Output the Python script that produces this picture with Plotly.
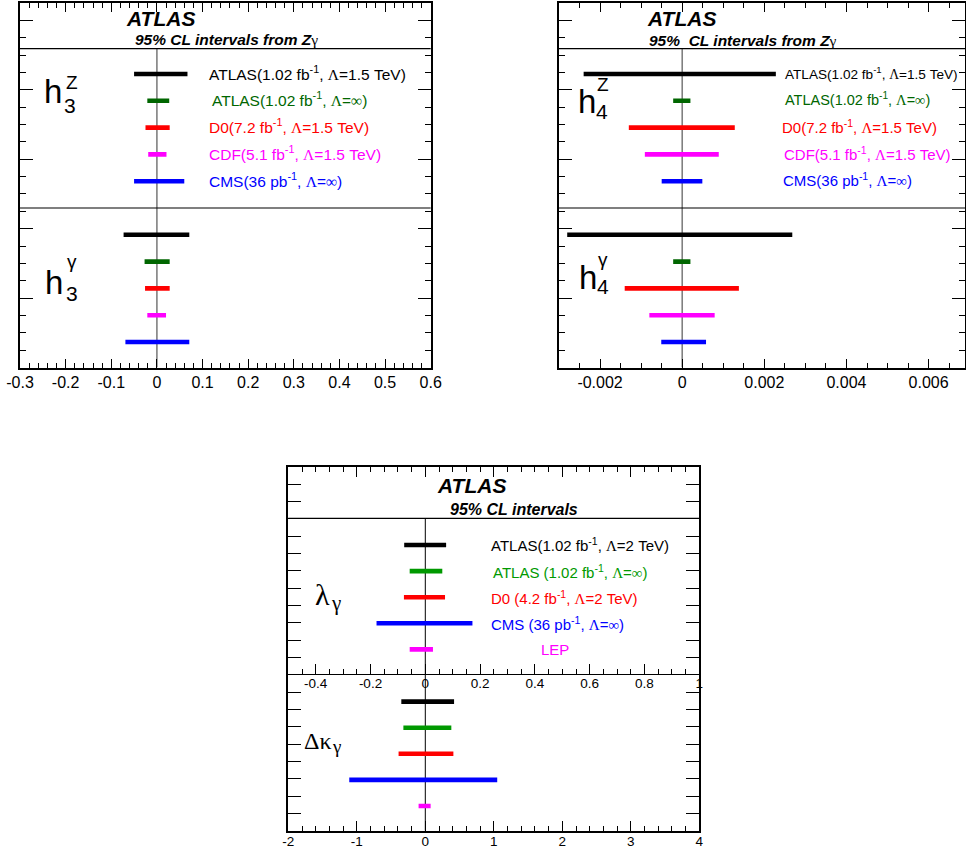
import plotly.graph_objects as go

W, H = 966, 850
SANS = "Liberation Sans, Arial, Helvetica, sans-serif"
SERIF = "Liberation Serif, Times New Roman, serif"

# ---------------- data ----------------
L = '<span style="font-family:Liberation Serif">Λ</span>'
INF = '<span style="font-family:Liberation Serif">∞</span>'
GAM = '<span style="font-family:Liberation Serif">γ</span>'

h_labels = [
    f"ATLAS(1.02 fb<sup>-1</sup>, {L}=1.5 TeV)",
    f"ATLAS(1.02 fb<sup>-1</sup>, {L}={INF})",
    f"D0(7.2 fb<sup>-1</sup>, {L}=1.5 TeV)",
    f"CDF(5.1 fb<sup>-1</sup>, {L}=1.5 TeV)",
    f"CMS(36 pb<sup>-1</sup>, {L}={INF})",
]
h_colors = ["#000000", "#006600", "#ff0000", "#ff00ff", "#0000ff"]

h3Z_lo = [-0.050, -0.021, -0.025, -0.019, -0.050]
h3Z_hi = [0.067, 0.027, 0.028, 0.021, 0.060]
h3g_lo = [-0.073, -0.027, -0.026, -0.021, -0.069]
h3g_hi = [0.071, 0.028, 0.028, 0.020, 0.071]

h4Z_lo = [-0.0024, -0.00022, -0.0013, -0.00091, -0.00050]
h4Z_hi = [0.00228, 0.00020, 0.00128, 0.00089, 0.00049]
h4g_lo = [-0.0028, -0.00022, -0.0014, -0.00080, -0.00051]
h4g_hi = [0.00268, 0.00020, 0.00138, 0.00079, 0.00058]

tgc_labels = [
    f"ATLAS(1.02 fb<sup>-1</sup>, {L}=2 TeV)",
    f"ATLAS (1.02 fb<sup>-1</sup>, {L}={INF})",
    f"D0 (4.2 fb<sup>-1</sup>, {L}=2 TeV)",
    f"CMS (36 pb<sup>-1</sup>, {L}={INF})",
    "LEP",
]
tgc_colors = ["#000000", "#009900", "#ff0000", "#0000ff", "#ff00ff"]

lam_lo = [-0.077, -0.057, -0.078, -0.178, -0.057]
lam_hi = [0.076, 0.062, 0.072, 0.172, 0.028]
dk_lo = [-0.35, -0.32, -0.39, -1.11, -0.098]
dk_hi = [0.42, 0.38, 0.41, 1.05, 0.078]

h3_ticks = [-0.3, -0.2, -0.1, 0, 0.1, 0.2, 0.3, 0.4, 0.5, 0.6]
h3_ticktext = ["-0.3", "-0.2", "-0.1", "0", "0.1", "0.2", "0.3", "0.4", "0.5", "0.6"]
h4_ticks = [-0.002, 0, 0.002, 0.004, 0.006]
h4_ticktext = ["-0.002", "0", "0.002", "0.004", "0.006"]
dk_ticks = [-2, -1, 0, 1, 2, 3, 4]
dk_ticktext = ["-2", "-1", "0", "1", "2", "3", "4"]
lam_ticks = [-0.4, -0.2, 0, 0.2, 0.4, 0.6, 0.8, 1.0]
lam_ticktext = ["-0.4", "-0.2", "0", "0.2", "0.4", "0.6", "0.8", "1"]

first_rows = list(range(5))              # upper group rows
second_rows = [i + 6 for i in range(5)]  # lower group rows (one empty row between)


def px(x):
    return x / W


def py(y):
    return 1 - y / H


fig = go.Figure()


def add_bars(xa, ya, lo, hi, rows, colors):
    for a, b, r, c in zip(lo, hi, rows, colors):
        fig.add_trace(go.Scatter(x=[a, b], y=[r, r], mode="lines",
                                 line=dict(color=c, width=4.6),
                                 xaxis=xa, yaxis=ya, showlegend=False,
                                 hoverinfo="skip"))


add_bars("x", "y", h3Z_lo, h3Z_hi, first_rows, h_colors)
add_bars("x", "y", h3g_lo, h3g_hi, second_rows, h_colors)
add_bars("x2", "y2", h4Z_lo, h4Z_hi, first_rows, h_colors)
add_bars("x2", "y2", h4g_lo, h4g_hi, second_rows, h_colors)
add_bars("x4", "y3", lam_lo, lam_hi, first_rows, tgc_colors)
add_bars("x3", "y3", dk_lo, dk_hi, second_rows, tgc_colors)


def xax(domain, rng, tv, tt, mdt, anchor, font=16, tl=9, ml=4.5, mt0=0, so=0):
    return dict(domain=domain, range=rng, anchor=anchor, tickmode="array",
                tickvals=tv, ticktext=tt, ticks="inside", ticklen=tl,
                tickwidth=1, tickcolor="black", mirror="allticks",
                showline=True, linewidth=2, linecolor="black",
                showgrid=False, zeroline=False, automargin=False,
                ticklabelstandoff=so,
                tickfont=dict(family=SANS, size=font, color="black"),
                minor=dict(tickmode="linear", tick0=mt0, dtick=mdt,
                           ticks="inside", ticklen=ml, tickcolor="black",
                           tickwidth=1, showgrid=False))


def yax(domain, rng, t0, pitch, anchor):
    return dict(domain=domain, range=rng, anchor=anchor, tickmode="linear",
                tick0=t0, dtick=4 * pitch, ticks="inside", ticklen=13,
                tickwidth=1, tickcolor="black", mirror="allticks",
                showline=True, linewidth=2, linecolor="black",
                showticklabels=False, showgrid=False, zeroline=False,
                automargin=False,
                minor=dict(tickmode="linear", tick0=t0, dtick=pitch,
                           ticks="inside", ticklen=6, tickcolor="black",
                           tickwidth=1, showgrid=False))


# top panels: row pitch 26.8 px, row 0 at y=74, frame 3..367.5
top_rng = [(367.5 - 74) / 26.8, (3 - 74) / 26.8]
top_pitch = (364.5 / 21) / 26.8
top_t0 = top_rng[1] + top_pitch
# bottom panel: row pitch 26.1 px, row 0 at y=545, frame 466.7..830.7
bot_rng = [(830.7 - 545) / 26.1, (466.7 - 545) / 26.1]
bot_pitch = (364.0 / 21) / 26.1
bot_t0 = bot_rng[1] + bot_pitch

h4_scale = 41070.0
TR_L, TR_R = 559.0, 965.0
fig.update_layout(
    xaxis=xax([px(20), px(430.7)], [-0.3, 0.6], h3_ticks, h3_ticktext, 0.02, "y", so=-1),
    yaxis=yax([py(367.5), py(3)], top_rng, top_t0, top_pitch, "x"),
    xaxis2=xax([px(TR_L), px(TR_R)], [-0.003, -0.003 + (TR_R - TR_L) / h4_scale],
               h4_ticks, h4_ticktext, 0.0005, "y2", so=-1),
    yaxis2=yax([py(367.5), py(3)], top_rng, top_t0, top_pitch, "x2"),
    xaxis3=xax([px(288.3), px(699.3)], [-2, 4], dk_ticks, dk_ticktext, 0.2, "y3",
               font=13.5, tl=10, ml=5, so=-3),
    yaxis3=yax([py(830.7), py(466.7)], bot_rng, bot_t0, bot_pitch, "x3"),
    xaxis4=dict(overlaying="x3", anchor="free", position=py(674.3), side="bottom",
                range=[-0.5, 1.0], tickmode="array", tickvals=lam_ticks,
                ticktext=lam_ticktext, ticks="inside", ticklen=10, tickwidth=1,
                tickcolor="black", showline=True, linewidth=1, linecolor="black",
                showgrid=False, zeroline=False, automargin=False,
                ticklabelstandoff=-4,
                tickfont=dict(family=SANS, size=13.5, color="black"),
                minor=dict(tickmode="linear", tick0=0, dtick=0.05, ticks="inside",
                           ticklen=5, tickcolor="black", tickwidth=1, showgrid=False)),
)

shapes = []
for xa, ya, sep in [("x", "y", -0.944), ("x2", "y2", -0.944)]:
    shapes.append(dict(type="line", xref=f"{xa} domain", yref=ya, x0=0, x1=1,
                       y0=sep, y1=sep, line=dict(color="black", width=1.2)))
    shapes.append(dict(type="line", xref=f"{xa} domain", yref=ya, x0=0, x1=1,
                       y0=5.0, y1=5.0, line=dict(color="black", width=1.2)))
    shapes.append(dict(type="line", xref=xa, yref=ya, x0=0, x1=0, y0=sep,
                       y1=top_rng[0], line=dict(color="#808080", width=1.6),
                       layer="below"))
shapes.append(dict(type="line", xref="x3 domain", yref="y3", x0=0, x1=1,
                   y0=-1.02, y1=-1.02, line=dict(color="black", width=1.2)))
shapes.append(dict(type="line", xref="x3", yref="y3", x0=0, x1=0, y0=-1.02,
                   y1=bot_rng[0], line=dict(color="black", width=1), layer="below"))
fig.update_layout(shapes=shapes)

ann = []


def A(text, x, y, size, color="black", family=SANS, xanchor="center"):
    ann.append(dict(text=text, xref="paper", x=px(x), yref="paper", y=py(y),
                    showarrow=False, xanchor=xanchor, yanchor="middle",
                    font=dict(family=family, size=size, color=color)))


# titles
A("<b><i>ATLAS</i></b>", 160.5, 19, 21)
A(f"<b><i>95% CL intervals from Z</i></b>{GAM}", 226, 39.5, 15.5)
A("<b><i>ATLAS</i></b>", 681, 19, 21)
A(f"<b><i>95%  CL intervals from Z</i></b>{GAM}", 742.5, 40, 15.5)
A("<b><i>ATLAS</i></b>", 471.7, 485, 21)
A("<b><i>95% CL intervals</i></b>", 514, 509.3, 16)

# legend-like labels
tl_x = [207, 210, 207, 207, 207]
tl_size = [15.5, 15.5, 15.5, 15.5, 15.5]
tr_x = [782.7, 783, 780, 782, 780.7]
tr_size = [13.6, 14.5, 15, 15, 15]
bt_x = [489.3, 490.7, 489.3, 489.3, 539.3]
for lab, c, r, x, s in zip(h_labels, h_colors, first_rows, tl_x, tl_size):
    ann.append(dict(text=lab, xref="paper", x=px(x), yref="y", y=r - 0.05,
                    showarrow=False, xanchor="left", yanchor="middle",
                    font=dict(family=SANS, size=s, color=c)))
for lab, c, r, x, s in zip(h_labels, h_colors, first_rows, tr_x, tr_size):
    ann.append(dict(text=lab, xref="paper", x=px(x), yref="y2", y=r - 0.05,
                    showarrow=False, xanchor="left", yanchor="middle",
                    font=dict(family=SANS, size=s, color=c)))
for lab, c, r, x in zip(tgc_labels, tgc_colors, first_rows, bt_x):
    ann.append(dict(text=lab, xref="paper", x=px(x), yref="y3", y=r,
                    showarrow=False, xanchor="left", yanchor="middle",
                    font=dict(family=SANS, size=15, color=c)))

# coupling names (main symbol, superscript, subscript stacked)
A("h", 64, 91.5, 33, xanchor="right")
A("Z", 63.8, 82.5, 19, xanchor="left")
A("3", 61.5, 105.5, 21, xanchor="left")
A("h", 65, 282.5, 33, xanchor="right")
A("γ", 64.5, 261.5, 19, xanchor="left")
A("3", 63.5, 293.5, 21, xanchor="left")
A("h", 597.5, 101.5, 33, xanchor="right")
A("Z", 594.5, 85, 19, xanchor="left")
A("4", 594, 111, 21, xanchor="left")
A("h", 598.5, 277.5, 33, xanchor="right")
A("γ", 596, 259, 19, xanchor="left")
A("4", 594.5, 286.7, 21, xanchor="left")
A("λ", 332, 594, 30, family=SERIF, xanchor="right")
A("γ", 328.5, 603, 21, family=SERIF, xanchor="left")
A("Δκ", 334, 740.8, 24, family=SERIF, xanchor="right")
A("γ", 330, 746.5, 19, family=SERIF, xanchor="left")

fig.update_layout(annotations=ann, width=W, height=H,
                  margin=dict(l=0, r=0, t=0, b=0, autoexpand=False),
                  paper_bgcolor="white", plot_bgcolor="white",
                  showlegend=False)

fig.write_html("out.html")
